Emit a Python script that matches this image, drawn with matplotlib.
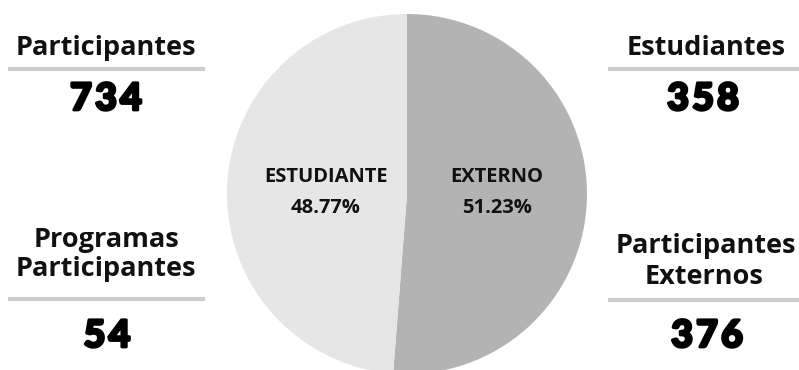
import matplotlib
matplotlib.use("Agg")
import matplotlib.pyplot as plt
import matplotlib.patheffects as pe

# participant counts
categorias = ["EXTERNO", "ESTUDIANTE"]
valores = [376, 358]
colores = ["#b3b3b3", "#e6e6e6"]

total_participantes = sum(valores)
programas = 54

W, H = 799, 370
fig = plt.figure(figsize=(W / 100, H / 100), dpi=100)
ax = fig.add_axes([0, 0, 1, 1])

ax.pie(valores, colors=colores, startangle=90, counterclock=False,
       center=(407, H - 194), radius=180,
       wedgeprops={"linewidth": 0})
ax.set_xlim(0, W)
ax.set_ylim(0, H)
ax.set_aspect("equal")
ax.axis("off")

LBL = dict(family="Open Sans", fontweight="bold", color="#111111")
# numbers: heavy weight, thickened with a stroke of the same colour
NUM = dict(family="Lato", fontweight="black", color="#000000",
           path_effects=[pe.withStroke(linewidth=2.0, foreground="#000000")])


def txt(x, y, s, size, style, **kw):
    # y measured from the top, text anchored on its baseline
    ax.text(x, H - y, s, fontsize=size, ha="center", va="baseline",
            **style, **kw)


def numero(x, y, n):
    # spread the digits a little for a wider look
    s = str(n)
    paso = 25
    x0 = x - paso * (len(s) - 1) / 2
    for i, c in enumerate(s):
        txt(x0 + i * paso, y, c, 27, NUM)


def regla(x0, x1, y):
    ax.plot([x0, x1], [H - y, H - y], color="#cccccc", lw=3,
            solid_capstyle="butt")


# wedge labels
pct = [v / total_participantes * 100 for v in valores]
txt(497, 182, categorias[0], 14.5, LBL)
txt(497, 213, f"{pct[0]:.2f}%", 14.5, LBL)
txt(326, 182, categorias[1], 14.5, LBL)
txt(326, 213, f"{pct[1]:.2f}%", 14.5, LBL)

# left column
txt(106, 55, "Participantes", 19.5, LBL)
regla(8, 205, 69)
numero(106, 110, total_participantes)

txt(106, 247, "Programas", 19.5, LBL)
txt(106, 276, "Participantes", 19.5, LBL)
regla(8, 205, 299)
numero(107, 347, programas)

# right column
txt(706, 55, "Estudiantes", 19.5, LBL)
regla(608, 799, 69)
numero(703, 110, valores[1])

txt(706, 253, "Participantes", 19.5, LBL)
txt(704, 284, "Externos", 19.5, LBL)
regla(608, 799, 300)
numero(707, 347, valores[0])

fig.savefig("out.png", dpi=100)
